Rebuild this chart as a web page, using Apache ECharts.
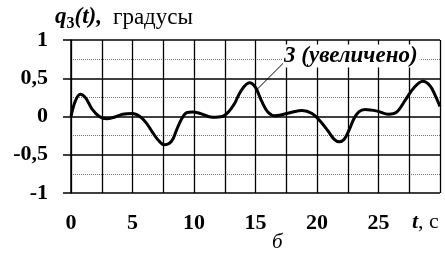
<!DOCTYPE html>
<html>
<head>
<meta charset="utf-8">
<script src="https://cdn.jsdelivr.net/npm/echarts@6/dist/echarts.min.js"></script>
<style>
  html, body { margin: 0; padding: 0; background: #fff; }
  #chart { width: 445px; height: 261px; }
</style>
</head>
<body>
<div id="chart"></div>
<script>
var myChart = echarts.init(document.getElementById('chart'));

// время, с
var times = [0, 0.35, 0.75, 1.2, 1.7, 2.3, 2.9, 3.5, 4.2, 5.0, 5.6, 6.1, 6.6, 7.1, 7.6, 8.0, 8.3, 8.6,
  9.0, 9.4, 9.9, 10.5, 11.5, 12.3, 12.8, 13.3, 13.8, 14.5, 15.0, 15.5, 16.0, 16.6,
  17.8, 18.8, 19.6, 20.2, 20.9, 21.4, 21.8, 22.2, 22.6, 23.0, 23.4, 23.9, 24.9, 25.8,
  26.5, 27.2, 27.9, 28.6, 29.2, 29.6, 30];
// q3(t), градусы (увеличено)
var values = [0, 0.2, 0.29, 0.24, 0.1, 0.0, -0.03, -0.01, 0.03, 0.04, 0.0, -0.08, -0.2, -0.31, -0.37, -0.35, -0.29, -0.17,
  -0.03, 0.05, 0.06, 0.04, -0.01, 0.0, 0.06, 0.17, 0.33, 0.44, 0.38, 0.2, 0.06, 0.01,
  0.05, 0.08, 0.04, -0.05, -0.19, -0.3, -0.33, -0.3, -0.18, -0.03, 0.06, 0.09, 0.07, 0.03,
  0.06, 0.22, 0.38, 0.46, 0.4, 0.28, 0.13];

var xTicks = [0, 5, 10, 15, 20, 25];
var yTicks = [-1, -0.5, 0, 0.5, 1];

var serif = '"Liberation Serif", "Times New Roman", serif';

var lineData = times.map(function (t, i) { return [t, values[i]]; });

var option = {
  backgroundColor: '#fff',
  animation: false,
  grid: { left: 71, right: 5, top: 40, bottom: 68 },
  xAxis: {
    type: 'value',
    min: 0,
    max: 30,
    interval: 5,
    axisLine: { show: false },
    axisTick: { show: false },
    axisLabel: {
      margin: 19,
      fontFamily: serif,
      fontWeight: 'bold',
      fontSize: 22,
      color: '#000',
      formatter: function (v) { return xTicks.indexOf(v) >= 0 ? String(v) : ''; }
    },
    splitLine: { show: true, lineStyle: { color: '#000', width: 1.3 } },
    minorTick: { show: false, splitNumber: 2 },
    minorSplitLine: { show: true, lineStyle: { color: '#000', width: 1.3 } }
  },
  yAxis: {
    type: 'value',
    min: -1,
    max: 1,
    interval: 0.5,
    axisLine: { show: true, lineStyle: { color: '#000', width: 1.5 } },
    axisTick: { show: true, length: 8, lineStyle: { color: '#000', width: 1.5 } },
    axisLabel: {
      margin: 23,
      fontFamily: serif,
      fontWeight: 'bold',
      fontSize: 22,
      color: '#000',
      formatter: function (v) {
        return yTicks.indexOf(v) >= 0 ? String(v).replace('.', ',') : '';
      }
    },
    splitLine: { show: true, lineStyle: { color: '#000', width: 1.5 } },
    minorTick: { show: false, splitNumber: 2 },
    minorSplitLine: { show: true, lineStyle: { color: '#777', width: 1, type: [1, 1] } }
  },
  series: [{
    type: 'line',
    data: lineData,
    smooth: 0.35,
    showSymbol: false,
    lineStyle: { color: '#000', width: 3 },
    z: 5
  }]
};

myChart.setOption(option);

// подписи и выноска
var p0 = myChart.convertToPixel({ gridIndex: 0 }, [15.1, 0.35]);
var p1 = myChart.convertToPixel({ gridIndex: 0 }, [17.4, 0.72]);

myChart.setOption({
  graphic: [
    {
      type: 'text',
      left: 55,
      top: 6,
      style: {
        text: '{q|q}{s|3}{q|(t),}{r|градусы}',
        rich: {
          q: { fontFamily: serif, fontWeight: 'bold', fontStyle: 'italic', fontSize: 23, fill: '#000' },
          s: { fontFamily: serif, fontWeight: 'bold', fontSize: 16, fill: '#000', padding: [12, 0, 0, 0] },
          r: { fontFamily: serif, fontSize: 23, fill: '#000', padding: [0, 0, 0, 11] }
        }
      }
    },
    {
      type: 'line',
      shape: { x1: p0[0], y1: p0[1], x2: p1[0], y2: p1[1] },
      style: { stroke: '#000', lineWidth: 1 },
      z: 10
    },
    {
      type: 'text',
      x: p1[0] - 2,
      y: p1[1] - 17,
      z: 11,
      style: {
        text: '3 (увеличено)',
        fontFamily: serif,
        fontStyle: 'italic',
        fontWeight: 'bold',
        fontSize: 23,
        fill: '#000',
        backgroundColor: '#fff',
        padding: [0, 2, 0, 1]
      }
    },
    {
      type: 'text',
      left: 412,
      top: 211,
      style: {
        text: '{i|t}{r|, с}',
        rich: {
          i: { fontFamily: serif, fontWeight: 'bold', fontStyle: 'italic', fontSize: 22, fill: '#000' },
          r: { fontFamily: serif, fontSize: 22, fill: '#000' }
        }
      }
    },
    {
      type: 'text',
      left: 272,
      top: 232,
      style: {
        text: 'б',
        fontFamily: serif,
        fontStyle: 'italic',
        fontSize: 21,
        fill: '#000'
      }
    }
  ]
});
</script>
</body>
</html>
